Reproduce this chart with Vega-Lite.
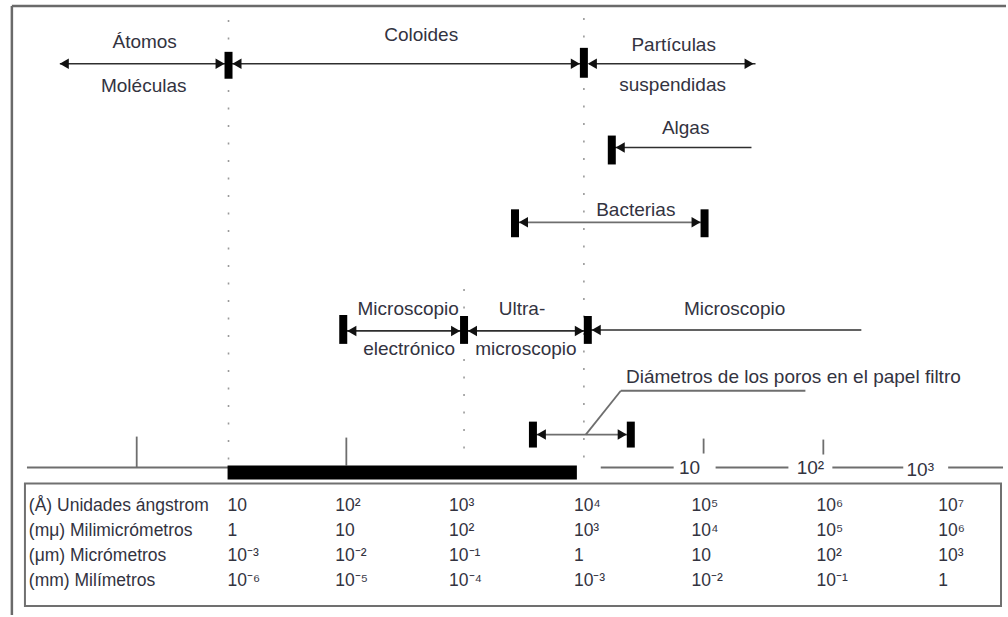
{
  "$schema": "https://vega.github.io/schema/vega-lite/v6.json",
  "width": 1008,
  "height": 617,
  "autosize": {"type": "fit", "contains": "padding"},
  "padding": 0,
  "background": "white",
  "config": {"view": {"stroke": null}},
  "datasets": {
    "frame": [
      {"x": -0.824, "x2": -0.824, "y": 6, "y2": 617},
      {"x": -0.824, "x2": 7.546, "y": 6, "y2": 6}
    ],
    "guides": [
      {"x": 1.0, "x2": 1.0, "y": 20, "y2": 465},
      {"x": 3.992, "x2": 3.992, "y": 18, "y2": 465},
      {"x": 2.983, "x2": 2.983, "y": 290, "y2": 465}
    ],
    "dark": [
      {"x": -0.42, "x2": 1.0, "y": 64, "y2": 64},
      {"x": 1.0, "x2": 3.992, "y": 64, "y2": 64},
      {"x": 4.034, "x2": 5.437, "y": 64, "y2": 64},
      {"x": 4.227, "x2": 5.403, "y": 148, "y2": 148},
      {"x": 1.966, "x2": 2.983, "y": 332, "y2": 332},
      {"x": 2.983, "x2": 4.025, "y": 332, "y2": 332},
      {"x": 4.025, "x2": 6.328, "y": 331, "y2": 331}
    ],
    "gray": [
      {"x": 3.412, "x2": 5.008, "y": 223, "y2": 223},
      {"x": 3.563, "x2": 4.387, "y": 436, "y2": 436},
      {"x": 4.303, "x2": 5.857, "y": 392, "y2": 392},
      {"x": 4.008, "x2": 4.303, "y": 436, "y2": 392},
      {"x": -0.697, "x2": 1.0, "y": 469, "y2": 469},
      {"x": 0.227, "x2": 0.227, "y": 438, "y2": 469},
      {"x": 1.992, "x2": 1.992, "y": 439, "y2": 467},
      {"x": 5.0, "x2": 5.0, "y": 440, "y2": 455},
      {"x": 6.008, "x2": 6.008, "y": 441, "y2": 456},
      {"x": 4.134, "x2": 4.748, "y": 469, "y2": 469},
      {"x": 5.101, "x2": 5.714, "y": 469, "y2": 469},
      {"x": 6.084, "x2": 6.681, "y": 469, "y2": 469},
      {"x": 7.059, "x2": 7.521, "y": 469, "y2": 469}
    ],
    "bars": [
      {"x": 1.0, "x2": 1.0, "y": 52, "y2": 79},
      {"x": 3.992, "x2": 3.992, "y": 48, "y2": 78},
      {"x": 4.227, "x2": 4.227, "y": 136, "y2": 165},
      {"x": 3.412, "x2": 3.412, "y": 210, "y2": 238},
      {"x": 5.008, "x2": 5.008, "y": 210, "y2": 238},
      {"x": 1.966, "x2": 1.966, "y": 316, "y2": 345},
      {"x": 2.983, "x2": 2.983, "y": 317, "y2": 345},
      {"x": 4.025, "x2": 4.025, "y": 317, "y2": 345},
      {"x": 3.563, "x2": 3.563, "y": 423, "y2": 449},
      {"x": 4.387, "x2": 4.387, "y": 423, "y2": 449}
    ],
    "thick": [
      {"x": 0.992, "x2": 3.933, "y": 467, "y2": 481}
    ],
    "box": [
      {"x": -0.714, "x2": 7.504, "y": 485, "y2": 608}
    ],
    "arrows": [
      {"x": -0.383, "y": 64, "dir": "left"},
      {"x": 0.929, "y": 64, "dir": "right"},
      {"x": 1.071, "y": 64, "dir": "left"},
      {"x": 3.92, "y": 64, "dir": "right"},
      {"x": 4.063, "y": 64, "dir": "left"},
      {"x": 5.383, "y": 64, "dir": "right"},
      {"x": 4.298, "y": 148, "dir": "left"},
      {"x": 3.483, "y": 223, "dir": "left"},
      {"x": 4.937, "y": 223, "dir": "right"},
      {"x": 2.038, "y": 332, "dir": "left"},
      {"x": 2.912, "y": 332, "dir": "right"},
      {"x": 3.054, "y": 332, "dir": "left"},
      {"x": 3.954, "y": 332, "dir": "right"},
      {"x": 4.096, "y": 331, "dir": "left"},
      {"x": 3.634, "y": 436, "dir": "left"},
      {"x": 4.315, "y": 436, "dir": "right"}
    ],
    "labels": [
      {"x": 0.294, "y": 42, "text": "Átomos"},
      {"x": 0.286, "y": 86, "text": "Moléculas"},
      {"x": 2.622, "y": 35, "text": "Coloides"},
      {"x": 4.748, "y": 45, "text": "Partículas"},
      {"x": 4.739, "y": 85, "text": "suspendidas"},
      {"x": 4.849, "y": 128, "text": "Algas"},
      {"x": 4.429, "y": 211, "text": "Bacterias"},
      {"x": 2.513, "y": 310, "text": "Microscopio"},
      {"x": 2.521, "y": 350, "text": "electrónico"},
      {"x": 3.471, "y": 310, "text": "Ultra-"},
      {"x": 3.504, "y": 350, "text": "microscopio"},
      {"x": 5.261, "y": 310, "text": "Microscopio"},
      {"x": 5.756, "y": 378, "text": "Diámetros de los poros en el papel filtro"},
      {"x": 4.882, "y": 470, "text": "10"},
      {"x": 5.899, "y": 470, "text": "10²"},
      {"x": 6.824, "y": 472, "text": "10³"}
    ],
    "table": [
      {"x": -0.681, "y": 508, "text": "(Å) Unidades ángstrom"},
      {"x": -0.681, "y": 533, "text": "(mμ) Milimicrómetros"},
      {"x": -0.681, "y": 558, "text": "(μm) Micrómetros"},
      {"x": -0.681, "y": 583, "text": "(mm) Milímetros"},
      {"x": 0.992, "y": 508, "text": "10"},
      {"x": 1.899, "y": 508, "text": "10²"},
      {"x": 2.857, "y": 508, "text": "10³"},
      {"x": 3.908, "y": 508, "text": "10⁴"},
      {"x": 4.899, "y": 508, "text": "10⁵"},
      {"x": 5.95, "y": 508, "text": "10⁶"},
      {"x": 6.975, "y": 508, "text": "10⁷"},
      {"x": 0.992, "y": 533, "text": "1"},
      {"x": 1.899, "y": 533, "text": "10"},
      {"x": 2.857, "y": 533, "text": "10²"},
      {"x": 3.908, "y": 533, "text": "10³"},
      {"x": 4.899, "y": 533, "text": "10⁴"},
      {"x": 5.95, "y": 533, "text": "10⁵"},
      {"x": 6.975, "y": 533, "text": "10⁶"},
      {"x": 0.992, "y": 558, "text": "10⁻³"},
      {"x": 1.899, "y": 558, "text": "10⁻²"},
      {"x": 2.857, "y": 558, "text": "10⁻¹"},
      {"x": 3.908, "y": 558, "text": "1"},
      {"x": 4.899, "y": 558, "text": "10"},
      {"x": 5.95, "y": 558, "text": "10²"},
      {"x": 6.975, "y": 558, "text": "10³"},
      {"x": 0.992, "y": 583, "text": "10⁻⁶"},
      {"x": 1.899, "y": 583, "text": "10⁻⁵"},
      {"x": 2.857, "y": 583, "text": "10⁻⁴"},
      {"x": 3.908, "y": 583, "text": "10⁻³"},
      {"x": 4.899, "y": 583, "text": "10⁻²"},
      {"x": 5.95, "y": 583, "text": "10⁻¹"},
      {"x": 6.975, "y": 583, "text": "1"}
    ]
  },
  "encoding": {
    "x": {"field": "x", "type": "quantitative", "axis": null, "scale": {"domain": [-0.924, 7.546], "nice": false, "zero": false}},
    "y": {"field": "y", "type": "quantitative", "axis": null, "scale": {"domain": [0, 617], "nice": false, "zero": false, "reverse": true}}
  },
  "layer": [
    {
      "data": {"name": "frame"},
      "mark": {"type": "rule", "color": "#6a6a6a", "strokeWidth": 2.5},
      "encoding": {"x2": {"field": "x2"}, "y2": {"field": "y2"}}
    },
    {
      "data": {"name": "guides"},
      "mark": {"type": "rule", "color": "#9a9a9a", "strokeWidth": 1.6, "strokeDash": [2, 15.5]},
      "encoding": {"x2": {"field": "x2"}, "y2": {"field": "y2"}}
    },
    {
      "data": {"name": "dark"},
      "mark": {"type": "rule", "color": "#2e2e2e", "strokeWidth": 1.6},
      "encoding": {"x2": {"field": "x2"}, "y2": {"field": "y2"}}
    },
    {
      "data": {"name": "gray"},
      "mark": {"type": "rule", "color": "#6e6e6e", "strokeWidth": 1.8},
      "encoding": {"x2": {"field": "x2"}, "y2": {"field": "y2"}}
    },
    {
      "data": {"name": "box"},
      "mark": {"type": "rect", "fill": null, "fillOpacity": 0, "stroke": "#707070", "strokeWidth": 2},
      "encoding": {"x2": {"field": "x2"}, "y2": {"field": "y2"}}
    },
    {
      "data": {"name": "thick"},
      "mark": {"type": "rect", "color": "#000000"},
      "encoding": {"x2": {"field": "x2"}, "y2": {"field": "y2"}}
    },
    {
      "data": {"name": "bars"},
      "mark": {"type": "rule", "color": "#000000", "strokeWidth": 8},
      "encoding": {"x2": {"field": "x2"}, "y2": {"field": "y2"}}
    },
    {
      "data": {"name": "arrows"},
      "mark": {"type": "point", "filled": true, "color": "#111111", "size": 110, "opacity": 1},
      "encoding": {
        "shape": {"field": "dir", "type": "nominal", "legend": null, "scale": {"domain": ["left", "right"], "range": ["triangle-left", "triangle-right"]}}
      }
    },
    {
      "data": {"name": "labels"},
      "mark": {"type": "text", "font": "Liberation Sans", "fontSize": 19, "color": "#33333f", "align": "center", "baseline": "middle"},
      "encoding": {"text": {"field": "text"}}
    },
    {
      "data": {"name": "table"},
      "mark": {"type": "text", "font": "Liberation Sans", "fontSize": 17.5, "color": "#33333f", "align": "left", "baseline": "middle"},
      "encoding": {"text": {"field": "text"}}
    }
  ]
}
